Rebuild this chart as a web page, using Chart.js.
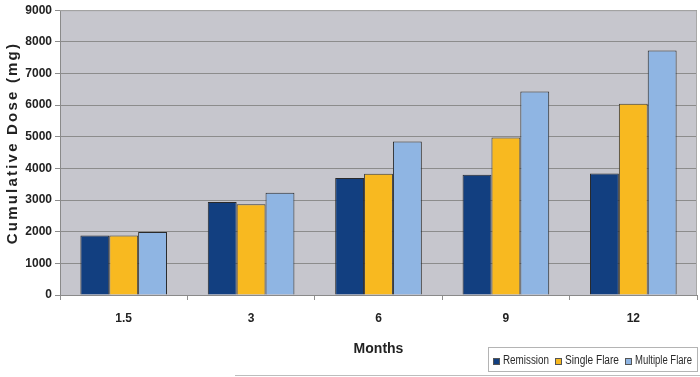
<!DOCTYPE html>
<html>
<head>
<meta charset="utf-8">
<script src="https://cdn.jsdelivr.net/npm/chart.js@4.4.1/dist/chart.umd.min.js"></script>
<style>
  html, body { margin: 0; padding: 0; background: #fff; }
  #wrap { width: 700px; height: 377px; }
</style>
</head>
<body>
<div id="wrap"><canvas id="doseChart"></canvas></div>
<script>
const months = ['1.5', '3', '6', '9', '12'];
const remission = [1880, 2940, 3700, 3800, 3840];
const singleFlare = [1880, 2870, 3830, 4980, 6040];
const multipleFlare = [1990, 3230, 4850, 6430, 7730];
const yTicks = [0, 1000, 2000, 3000, 4000, 5000, 6000, 7000, 8000, 9000];

// legend label widths as printed (condensed face)
const legendWidths = [46, 54, 57];

// plot background, y title with spacing, legend box
const decorations = {
    id: 'decorations',
    beforeDraw(chart) {
        const { ctx, chartArea: a } = chart;
        ctx.save();
        ctx.fillStyle = '#c6c6cd';
        ctx.fillRect(a.left, a.top, a.right - a.left, a.bottom - a.top);
        ctx.restore();
    },
    afterDraw(chart) {
        const { ctx, chartArea: a } = chart;
        ctx.save();
        // frame top/right
        ctx.strokeStyle = '#a8a8a8';
        ctx.lineWidth = 1;
        ctx.beginPath();
        ctx.moveTo(a.left, a.top + 0.5);
        ctx.lineTo(a.right - 0.5, a.top + 0.5);
        ctx.lineTo(a.right - 0.5, a.bottom);
        ctx.stroke();

        // y axis title
        ctx.translate(13, 143);
        ctx.rotate(-Math.PI / 2);
        ctx.font = 'bold 15px "Liberation Sans", Arial, sans-serif';
        ctx.letterSpacing = '2.2px';
        ctx.fillStyle = '#222';
        ctx.textAlign = 'center';
        ctx.textBaseline = 'middle';
        ctx.fillText('Cumulative Dose (mg)', 0, 0);
        ctx.restore();

        // legend
        ctx.save();
        ctx.font = '12px "Liberation Sans", Arial, sans-serif';
        ctx.textBaseline = 'middle';
        const boxL = 488, boxR = 698, boxT = 347, boxB = 372;
        ctx.fillStyle = '#fff';
        ctx.fillRect(boxL, boxT, boxR - boxL, boxB - boxT);
        ctx.strokeStyle = '#b4b4b4';
        ctx.strokeRect(boxL + 0.5, boxT + 0.5, boxR - boxL - 1, boxB - boxT - 1);
        const cy = 361;
        let x = 493;
        chart.data.datasets.forEach((ds, i) => {
            ctx.fillStyle = ds.backgroundColor;
            ctx.fillRect(x, cy - 3, 7, 7);
            ctx.strokeStyle = '#555';
            ctx.lineWidth = 1;
            ctx.strokeRect(x + 0.5, cy - 2.5, 6, 6);
            x += 10;
            ctx.fillStyle = '#2a2a2a';
            ctx.fillText(ds.label, x, cy, legendWidths[i]);
            x += legendWidths[i] + 6;
        });
        // scan edge line
        ctx.strokeStyle = '#bdbdbd';
        ctx.beginPath();
        ctx.moveTo(235, 375.5);
        ctx.lineTo(700, 375.5);
        ctx.stroke();
        ctx.restore();
    }
};

const ctx = document.getElementById('doseChart').getContext('2d');
const chart = new Chart(ctx, {
    type: 'bar',
    data: {
        labels: months,
        datasets: [{
            label: 'Remission',
            data: remission,
            backgroundColor: '#123f80',
            borderColor: '#2a2a2a',
            borderWidth: 1
        }, {
            label: 'Single Flare',
            data: singleFlare,
            backgroundColor: '#f8b920',
            borderColor: '#3a3a3a',
            borderWidth: 1
        }, {
            label: 'Multiple Flare',
            data: multipleFlare,
            backgroundColor: '#8fb5e3',
            borderColor: '#2a2a2a',
            borderWidth: 1
        }]
    },
    options: {
        responsive: true,
        maintainAspectRatio: false,
        animation: false,
        layout: { padding: { left: 20, right: 3, top: 7, bottom: 0 } },
        plugins: {
            legend: { display: false },
            tooltip: { enabled: false }
        },
        datasets: {
            bar: { categoryPercentage: 0.68, barPercentage: 1.0 }
        },
        scales: {
            x: {
                grid: {
                    display: true,
                    drawOnChartArea: false,
                    drawTicks: true,
                    tickLength: 5,
                    color: '#909090'
                },
                border: { color: '#8a8a8a' },
                ticks: {
                    padding: 11,
                    color: '#222',
                    font: { family: '"Liberation Sans", Arial, sans-serif', size: 12, weight: 'bold' }
                },
                title: {
                    display: true,
                    text: 'Months',
                    color: '#222',
                    padding: { top: 12, bottom: 19 },
                    font: { family: '"Liberation Sans", Arial, sans-serif', size: 14, weight: 'bold' }
                },
                afterFit(s) { s.height = 82; }
            },
            y: {
                min: 0,
                max: 9000,
                afterBuildTicks(s) { s.ticks = yTicks.map(v => ({ value: v })); },
                grid: {
                    color: '#8c8c8c',
                    tickLength: 5,
                    drawTicks: true
                },
                border: { color: '#8a8a8a' },
                ticks: {
                    padding: 3,
                    color: '#222',
                    callback: v => String(v),
                    font: { family: '"Liberation Sans", Arial, sans-serif', size: 12, weight: 'bold' }
                },
                afterFit(s) { s.width = 40; }
            }
        }
    },
    plugins: [decorations]
});
</script>
</body>
</html>
